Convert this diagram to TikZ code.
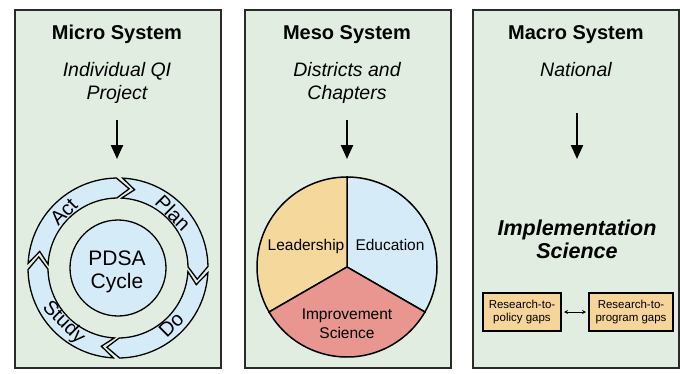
\documentclass[tikz,border=0pt]{standalone}
\usepackage{fontspec}
\setmainfont{Liberation Sans}
\usetikzlibrary{arrows.meta}
\definecolor{panelbg}{HTML}{E1EDE1}
\definecolor{edgec}{HTML}{2A2A2A}
\definecolor{ringblue}{HTML}{D5EBF8}
\definecolor{leadc}{HTML}{F5D99C}
\definecolor{educ}{HTML}{D5EBF8}
\definecolor{impc}{HTML}{E8968F}
\definecolor{gapc}{HTML}{F6D59B}
\newcommand\ringpiece[2]{%
  \filldraw[ringseg] (#1:90) arc[start angle=#1, end angle=#2, radius=90]
    -- ({#2-9}:80) -- (#2:70) arc[start angle=#2, end angle=#1, radius=70]
    -- ({#1-9}:80) -- cycle;}
\begin{document}
\begin{tikzpicture}[x=1pt,y=-1pt,
  panel/.style={draw=edgec, line width=1.8pt, fill=panelbg, minimum width=206pt,
    minimum height=358pt, anchor=north west, inner sep=0pt},
  titletext/.style={font=\fontsize{20}{23}\selectfont\bfseries, anchor=base},
  subtext/.style={font=\fontsize{19.5}{23}\selectfont\itshape, anchor=base},
  downarrow/.style={line width=2.2pt, -{Triangle[length=14pt,width=12pt]}},
  ringseg/.style={draw=black, line width=1.3pt, fill=ringblue},
  ringlabel/.style={font=\fontsize{20}{22}\selectfont, inner sep=0pt},
  pieedge/.style={draw=black, line width=1.5pt},
  pielabel/.style={font=\fontsize{15.5}{19}\selectfont, anchor=base},
  gapbox/.style={draw=black, line width=2pt, fill=gapc, minimum width=78pt,
    minimum height=38pt, align=center, inner sep=1pt,
    font=\fontsize{11.5}{13.5}\selectfont},
  implabel/.style={font=\fontsize{21.5}{23}\selectfont\bfseries\itshape, anchor=base}]
\useasboundingbox (0,0) rectangle (680,373);

% panels
\node[panel] (p1) at (14,9) {};
\node[panel] (p2) at (244,9) {};
\node[panel] (p3) at (472,9) {};

% ---------- Micro ----------
\node[titletext] (t1) at (117,39) {Micro System};
\node[subtext] (s1a) at (117,76) {Individual QI};
\node[subtext] (s1b) at (117,99) {Project};
\coordinate (a1s) at (117,120);
\coordinate (a1e) at (117,159);
\draw[downarrow] (a1s) -- (a1e);

\begin{scope}[shift={(118,268)}, y=1pt]
  \ringpiece{87}{1}
  \ringpiece{-3}{-89}
  \ringpiece{-93}{-179}
  \ringpiece{177}{91}
  \node[ringseg, circle, minimum size=96pt, inner sep=0pt] (pdsa) at (0,0) {};
  \node[ringlabel, rotate=-45] (plan) at (45:78) {Plan};
  \node[ringlabel, rotate=45] (do) at (-47:78) {Do};
  \node[ringlabel, rotate=-45] (study) at (-135:77) {Study};
  \node[ringlabel, rotate=45] (act) at (134:78) {Act};
\end{scope}
\node[font=\fontsize{21}{23}\selectfont, anchor=base] (pd1) at (117,265) {PDSA};
\node[font=\fontsize{21}{23}\selectfont, anchor=base] (pd2) at (117,288) {Cycle};

% ---------- Meso ----------
\node[titletext] (t2) at (347,39) {Meso System};
\node[subtext] (s2a) at (347,76) {Districts and};
\node[subtext] (s2b) at (347,99) {Chapters};
\coordinate (a2s) at (347,120);
\coordinate (a2e) at (347,159);
\draw[downarrow] (a2s) -- (a2e);

\begin{scope}[shift={(347,267)}, y=1pt]
  \filldraw[pieedge, fill=educ] (0,0) -- (90:90) arc[start angle=90, end angle=-30, radius=90] -- cycle;
  \filldraw[pieedge, fill=leadc] (0,0) -- (90:90) arc[start angle=90, end angle=210, radius=90] -- cycle;
  \filldraw[pieedge, fill=impc] (0,0) -- (210:90) arc[start angle=210, end angle=330, radius=90] -- cycle;
\end{scope}
\node[pielabel] (lead) at (306,250) {Leadership};
\node[pielabel] (edu) at (390,250) {Education};
\node[pielabel] (imp1) at (347,319) {Improvement};
\node[pielabel] (imp2) at (347,338) {Science};

% ---------- Macro ----------
\node[titletext] (t3) at (576,39) {Macro System};
\node[subtext] (s3a) at (576,76) {National};
\coordinate (a3s) at (577,113);
\coordinate (a3e) at (577,159);
\draw[downarrow] (a3s) -- (a3e);
\node[implabel] (is1) at (577,235) {Implementation};
\node[implabel] (is2) at (577,258) {Science};
\node[gapbox, anchor=north west] (g1) at (482,292) {Research-to-\\policy gaps};
\node[gapbox, anchor=north west, minimum width=84pt] (g2) at (588,292) {Research-to-\\program gaps};
\draw[line width=1pt, {Stealth[length=4pt,width=4pt]}-{Stealth[length=4pt,width=4pt]}]
  ([xshift=2pt]g1.east) -- ([xshift=-2pt]g2.east -| g2.west);
\end{tikzpicture}
\end{document}
